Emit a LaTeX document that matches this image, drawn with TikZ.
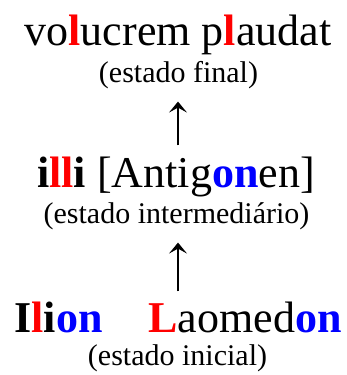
\documentclass[tikz,border=0pt]{standalone}
\usepackage{fontspec}
\setmainfont{Liberation Serif}
\usepackage{xcolor}
\definecolor{lred}{RGB}{255,0,0}
\definecolor{lblue}{RGB}{0,0,255}
\usetikzlibrary{arrows.meta,positioning}
\newcommand{\rl}[1]{\textcolor{lred}{\textbf{#1}}}
\newcommand{\bl}[1]{\textcolor{lblue}{\textbf{#1}}}

\begin{document}
\begin{tikzpicture}[x=1pt,y=-1pt,
  word/.style={inner sep=0pt, anchor=base, font=\fontsize{44}{48}\selectfont},
  lbl/.style={inner sep=0pt, anchor=base, font=\fontsize{30}{34}\selectfont},
  uparrow/.style={line width=1.6pt, -{Stealth[length=11pt,width=18pt,inset=5pt]}}]
  \useasboundingbox (0,0) rectangle (347,375);

  % final state
  \node[word] (final) at (178,45) {vo\rl{l}ucrem p\rl{l}audat};
  \node[lbl] (finallbl) at (178.5,82) {(estado final)};

  % intermediate state
  \node[word] (inter) at (176,187) {\textbf{i\rl{ll}i} [Antig\bl{on}en]};
  \node[lbl] (interlbl) at (176.5,223) {(estado intermedi\'ario)};

  % initial state
  \node[word] (inicial) at (178,332) {\textbf{I\rl{l}i\bl{on}}\hspace{46pt}\rl{L}aomed\bl{on}};
  \node[lbl] (iniciallbl) at (177.5,365) {(estado inicial)};

  % arrows
  \draw[uparrow, shorten <=11pt, shorten >=13pt] (inter.north -| 178,0) -- (finallbl.south -| 178,0);
  \draw[uparrow, shorten <=10pt, shorten >=13pt] (inicial.north -| 178,0) -- (interlbl.south -| 178,0);
\end{tikzpicture}
\end{document}
